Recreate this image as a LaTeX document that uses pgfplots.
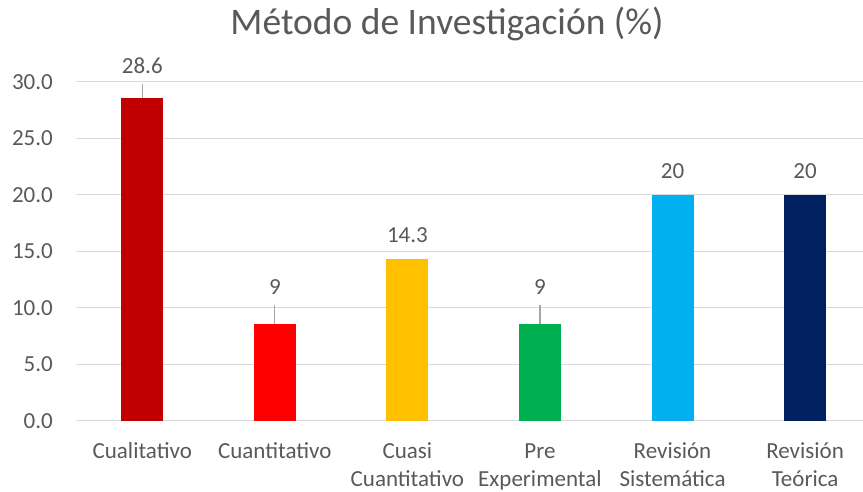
\documentclass[border=0pt]{standalone}
\usepackage{pgfplots}
\pgfplotsset{compat=1.18}
\usepackage{fontspec}
\setmainfont{Carlito}
\definecolor{c1}{HTML}{C00000}
\definecolor{c2}{HTML}{FF0000}
\definecolor{c3}{HTML}{FFC000}
\definecolor{c4}{HTML}{00B050}
\definecolor{c5}{HTML}{00B0F0}
\definecolor{c6}{HTML}{002060}
\definecolor{txt}{HTML}{595959}
\definecolor{gridc}{HTML}{D9D9D9}
\definecolor{leader}{HTML}{A6A6A6}
\begin{document}
\begin{tikzpicture}
\useasboundingbox (-76pt,-71pt) rectangle (787pt,421pt);
\begin{axis}[
  at={(0pt,0pt)}, anchor=south west,
  scale only axis, width=787pt, height=339pt,
  xmin=-0.5, xmax=5.437, ymin=0, ymax=30,
  ytick={0,5,10,15,20,25,30},
  xtick={0,1,2,3,4,5},
  xticklabels={\strut Cualitativo, \strut Cuantitativo, {\strut Cuasi\\\strut Cuantitativo}, {\strut Pre\\\strut Experimental}, {\strut Revisión\\\strut Sistemática}, {\strut Revisión\\\strut Teórica}},
  ymajorgrids, grid style={gridc, line width=1pt},
  axis line style={draw=none},
  major tick length=0pt,
  tick style={draw=none},
  /pgf/number format/assume math mode=true,
  yticklabel={\pgfmathprintnumber[fixed, fixed zerofill, precision=1]{\tick}},
  yticklabel style={anchor=east, inner sep=0pt, xshift=-23pt, font=\fontsize{23}{28}\selectfont, text=txt},
  xticklabel style={anchor=north, inner sep=0pt, yshift=-18pt, align=center, font=\fontsize{23}{28}\selectfont, text=txt},
  clip=false,
]
\addplot[ybar, bar width=42pt, bar shift=0pt, fill=c1, draw=none] coordinates {(0,28.6)};
\addplot[ybar, bar width=42pt, bar shift=0pt, fill=c2, draw=none] coordinates {(1,8.6)};
\addplot[ybar, bar width=42pt, bar shift=0pt, fill=c3, draw=none] coordinates {(2,14.3)};
\addplot[ybar, bar width=42pt, bar shift=0pt, fill=c4, draw=none] coordinates {(3,8.6)};
\addplot[ybar, bar width=42pt, bar shift=0pt, fill=c5, draw=none] coordinates {(4,20)};
\addplot[ybar, bar width=42pt, bar shift=0pt, fill=c6, draw=none] coordinates {(5,20)};
\draw[leader, line width=1.2pt] (axis cs:0,28.6) -- ++(0pt,14pt);
\draw[leader, line width=1.2pt] (axis cs:1,8.6) -- ++(0pt,19pt);
\draw[leader, line width=1.2pt] (axis cs:3,8.6) -- ++(0pt,19pt);
\begin{scope}[every node/.style={anchor=base, inner sep=0pt, text=txt, font=\fontsize{23}{28}\selectfont}]
\node at (axis cs:0,28.6) [yshift=24pt] {28.6};
\node at (axis cs:1,8.6) [yshift=29pt] {9};
\node at (axis cs:2,14.3) [yshift=17pt] {14.3};
\node at (axis cs:3,8.6) [yshift=29pt] {9};
\node at (axis cs:4,20) [yshift=16pt] {20};
\node at (axis cs:5,20) [yshift=16pt] {20};
\end{scope}
\end{axis}
\node[anchor=base, inner sep=0pt, text=txt, font=\fontsize{37.5}{44}\selectfont] at (371pt,386pt) {Método de Investigación (\%)};
\end{tikzpicture}
\end{document}
